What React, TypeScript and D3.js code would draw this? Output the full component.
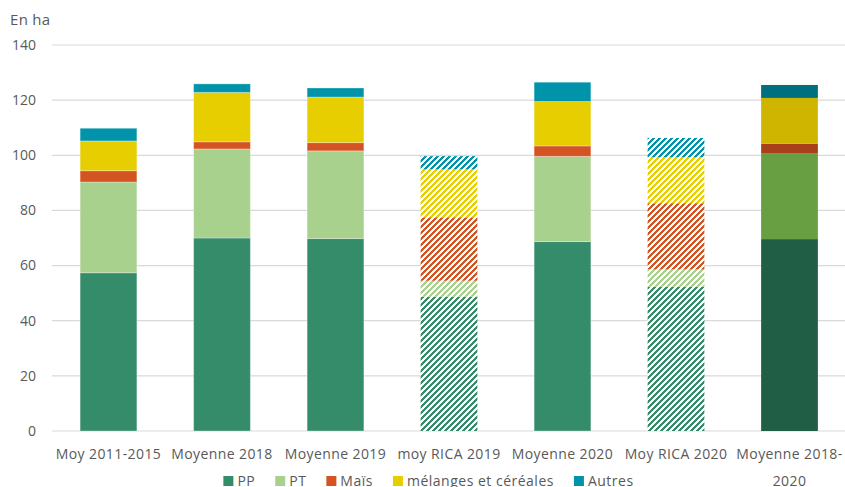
import React, { useEffect, useRef } from "react";
import * as d3 from "d3";

// Surfaces par type de culture (ha)
const categories = [
  "Moy 2011-2015",
  "Moyenne 2018",
  "Moyenne 2019",
  "moy RICA 2019",
  "Moyenne 2020",
  "Moy RICA 2020",
  "Moyenne 2018-2020",
];
const seriesNames = ["PP", "PT", "Maïs", "mélanges et céréales", "Autres"];
const pp = [57.4, 70.0, 69.8, 48.7, 68.7, 52.3, 69.6];
const pt = [32.9, 32.3, 31.8, 5.8, 30.9, 6.3, 31.2];
const mais = [4.1, 2.6, 3.0, 23.0, 3.8, 24.0, 3.4];
const melanges = [10.8, 17.9, 16.5, 17.4, 16.1, 16.7, 16.6];
const autres = [4.6, 3.1, 3.3, 4.8, 7.0, 7.0, 4.7];
const yTicks = [0, 20, 40, 60, 80, 100, 120, 140];

const W = 845;
const H = 487;
const FONT = "'Open Sans', sans-serif";
const colors = ["#358C6A", "#A9D18E", "#D35322", "#E6CE00", "#0093AA"];
const darkColors = ["#215E46", "#689F42", "#A8401B", "#CFB400", "#00707F"];
const hatched = new Set(["moy RICA 2019", "Moy RICA 2020"]);
const darkBar = "Moyenne 2018-2020";

export default function App() {
  const ref = useRef<SVGSVGElement | null>(null);

  useEffect(() => {
    const svg = d3.select(ref.current);
    svg.selectAll("*").remove();

    const x = d3.scaleBand().domain(categories).range([51.75, 846.25]).paddingInner(0.5).paddingOuter(0.25);
    const y = d3.scaleLinear().domain([0, 140]).range([431, 45]);

    const values = [pp, pt, mais, melanges, autres];
    const rows = categories.map((c, i) => {
      const r: any = { cat: c };
      seriesNames.forEach((s, k) => (r[s] = values[k][i]));
      return r;
    });
    const stacked = d3.stack().keys(seriesNames)(rows);

    // hatch patterns for the RICA bars
    const defs = svg.append("defs");
    colors.forEach((col, k) => {
      const p = defs
        .append("pattern")
        .attr("id", `hatch${k}`)
        .attr("patternUnits", "userSpaceOnUse")
        .attr("width", 6)
        .attr("height", 6);
      p.append("rect").attr("width", 6).attr("height", 6).attr("fill", "#fff");
      p.append("path")
        .attr("d", "M-1,1 l2,-2 M0,6 l6,-6 M5,7 l2,-2")
        .attr("stroke", col)
        .attr("stroke-width", 2.4)
        .attr("shape-rendering", "crispEdges");
    });

    // grid
    svg
      .append("g")
      .selectAll("line")
      .data(yTicks)
      .join("line")
      .attr("x1", 52)
      .attr("x2", W)
      .attr("y1", (d) => y(d))
      .attr("y2", (d) => y(d))
      .attr("stroke", "#d9d9d9")
      .attr("stroke-width", 1.2);

    // y tick labels
    svg
      .append("g")
      .selectAll("text")
      .data(yTicks)
      .join("text")
      .attr("x", 36)
      .attr("y", (d) => y(d))
      .attr("dy", "0.35em")
      .attr("text-anchor", "end")
      .attr("font-family", FONT)
      .attr("font-size", 14)
      .attr("fill", "#595959")
      .text((d) => d);

    svg
      .append("text")
      .attr("x", 10)
      .attr("y", 25)
      .attr("font-family", FONT)
      .attr("font-size", 15)
      .attr("letter-spacing", 0.3)
      .attr("fill", "#595959")
      .text("En ha");

    // bars
    stacked.forEach((layer, k) => {
      svg
        .append("g")
        .selectAll("rect")
        .data(layer)
        .join("rect")
        .attr("x", (d: any) => x(d.data.cat)!)
        .attr("width", x.bandwidth())
        .attr("y", (d) => y(d[1]))
        .attr("height", (d) => y(d[0]) - y(d[1]))
        .attr("fill", (d: any) =>
          hatched.has(d.data.cat)
            ? `url(#hatch${k})`
            : d.data.cat === darkBar
            ? darkColors[k]
            : colors[k]
        )
        .attr("stroke", (d: any) =>
          hatched.has(d.data.cat) || d.data.cat === darkBar ? "none" : "rgba(255,255,255,0.3)"
        )
        .attr("stroke-width", 1);
    });

    // category labels
    const labels = svg
      .append("g")
      .selectAll("text")
      .data(categories)
      .join("text")
      .attr("x", (d) => x(d)! + x.bandwidth() / 2)
      .attr("y", 459)
      .attr("text-anchor", "middle")
      .attr("font-family", FONT)
      .attr("font-size", 14)
      .attr("letter-spacing", 0.4)
      .attr("fill", "#595959");
    labels.each(function (d) {
      const t = d3.select(this);
      const parts = d.length > 14 ? [d.slice(0, d.lastIndexOf("-") + 1), d.slice(d.lastIndexOf("-") + 1)] : [d];
      parts.forEach((p, i) => {
        t.append("tspan")
          .attr("x", x(d)! + x.bandwidth() / 2)
          .attr("dy", i === 0 ? 0 : 27)
          .text(p);
      });
    });

    // legend
    const leg = svg.append("g");
    let cx = 0;
    const gap = 20;
    seriesNames.forEach((s, k) => {
      const g = leg.append("g").attr("transform", `translate(${cx},0)`);
      g.append("rect").attr("x", 0).attr("y", -5).attr("width", 10).attr("height", 10).attr("fill", colors[k]);
      const t = g
        .append("text")
        .attr("x", 14)
        .attr("y", 0)
        .attr("dy", "0.35em")
        .attr("font-family", FONT)
        .attr("font-size", 14)
        .attr("letter-spacing", 0.5)
        .attr("fill", "#595959")
        .text(s);
      const w = (t.node() as SVGTextElement).getComputedTextLength();
      cx += 14 + w + gap;
    });
    const total = cx - gap;
    leg.attr("transform", `translate(${(W - total) / 2 + 6},481)`);
  }, []);

  return (
    <svg
      ref={ref}
      width={W}
      height={H}
      style={{ position: "absolute", left: 0, top: 0, background: "#fff" }}
    />
  );
}
